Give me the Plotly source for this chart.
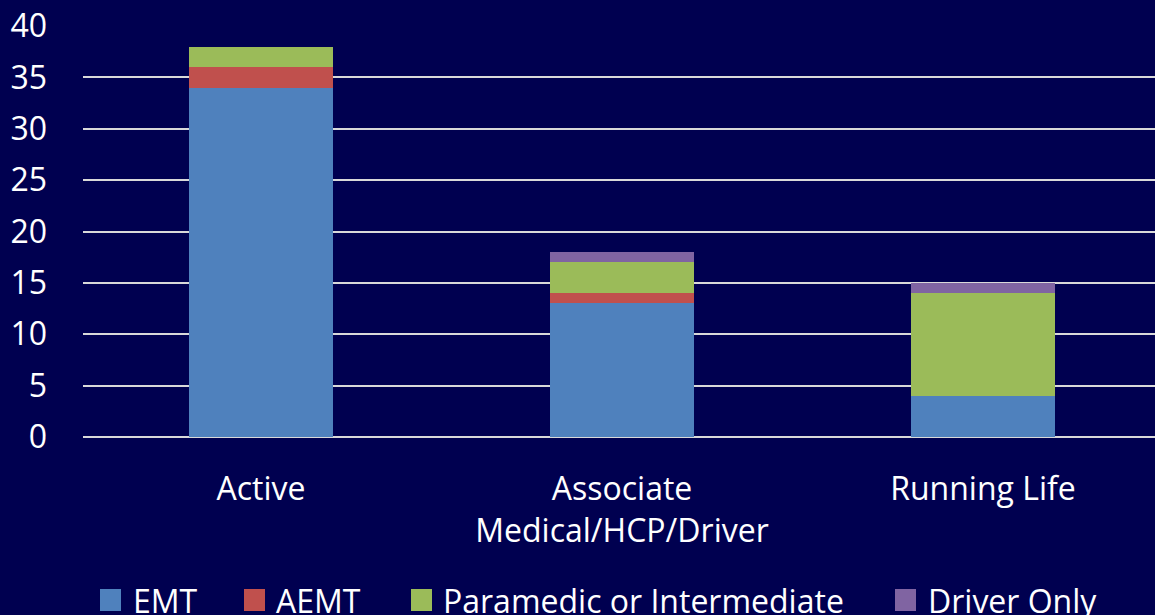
import plotly.graph_objects as go

categories = ["Active", "Associate<br>Medical/HCP/Driver", "Running Life"]
series_names = ["EMT", "AEMT", "Paramedic or Intermediate", "Driver Only"]
emt = [34, 13, 4]
aemt = [2, 1, 0]
paramedic = [2, 3, 10]
driver_only = [0, 1, 1]
y_ticks = [0, 5, 10, 15, 20, 25, 30, 35, 40]

colors = ["#4F81BD", "#C0504D", "#9BBB59", "#8064A2"]
BG = "#000050"
FONT = "Open Sans"
FS = 32

W, H = 1155, 615
L, T, B, R = 83, 26, 178, 0
PW = W - L - R
PH = H - T - B


def px2x(px):
    return (px - L) / PW


def py2y(py):
    return (T + PH - py) / PH


fig = go.Figure()
values = [emt, aemt, paramedic, driver_only]
for name, vals, col in zip(series_names, values, colors):
    fig.add_trace(go.Bar(
        x=list(range(len(categories))), y=vals, name=name,
        marker=dict(color=col, line=dict(width=0)),
        width=0.4, showlegend=False,
    ))

# manual legend
legend_sq = [100, 244, 411, 895]
legend_tx = [131, 274, 441, 926]
for name, col, sx, tx in zip(series_names, colors, legend_sq, legend_tx):
    fig.add_shape(type="rect", xref="paper", yref="paper",
                  x0=px2x(sx), x1=px2x(sx + 21), y0=py2y(611), y1=py2y(589),
                  fillcolor=col, line=dict(width=0))
    fig.add_annotation(x=px2x(tx), y=py2y(600), xref="paper", yref="paper",
                       text=name, showarrow=False, xanchor="left", yanchor="middle",
                       font=dict(family=FONT, size=FS, color="white"))

fig.update_layout(
    width=W, height=H,
    barmode="stack",
    paper_bgcolor=BG, plot_bgcolor=BG,
    margin=dict(l=L, r=R, t=T, b=B, pad=0),
    font=dict(family=FONT, size=FS, color="white"),
    showlegend=False,
)
x0 = -(261 - L) / 361.0
x1 = x0 + PW / 361.0
fig.update_xaxes(
    range=[x0, x1], tickmode="array", tickvals=list(range(len(categories))),
    ticktext=categories, showgrid=False, showline=False, zeroline=False,
    ticks="", ticklabelstandoff=30,
    tickfont=dict(family=FONT, size=FS, color="white"),
)
fig.update_yaxes(
    range=[0, 40], tickmode="array", tickvals=y_ticks,
    showgrid=True, gridcolor="#D9D9D9", gridwidth=2,
    zeroline=True, zerolinecolor="#D9D9D9", zerolinewidth=2,
    showline=False, ticks="", ticklabelstandoff=35,
    tickfont=dict(family=FONT, size=FS, color="white"),
)

fig.write_html(
    "out.html",
    config={"displayModeBar": False},
    post_script="document.body.style.margin='0';document.body.style.background='" + BG + "';",
)
